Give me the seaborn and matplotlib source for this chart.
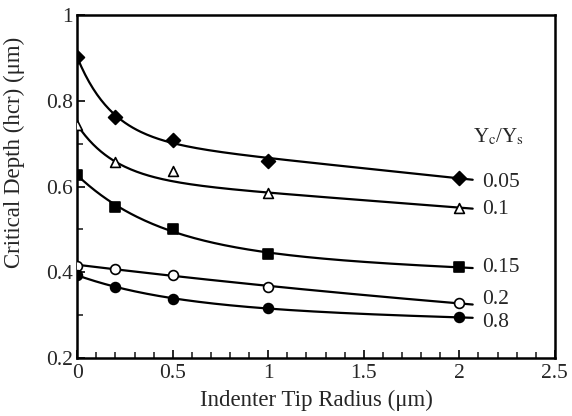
import numpy as np
import pandas as pd
import matplotlib
matplotlib.use("Agg")
import matplotlib.pyplot as plt
from matplotlib.ticker import MultipleLocator
import seaborn as sns

# Indenter tip radius (um) and critical depth (um) for each Yc/Ys ratio
radius = [0.0, 0.2, 0.5, 1.0, 2.0]
ratio_labels = ["0.05", "0.1", "0.15", "0.2", "0.8"]
depth_005 = [0.902, 0.763, 0.709, 0.660, 0.621]
depth_010 = [0.744, 0.658, 0.637, 0.586, 0.551]
depth_015 = [0.628, 0.553, 0.500, 0.444, 0.412]
depth_020 = [0.416, 0.409, 0.393, 0.367, 0.328]
depth_080 = [0.393, 0.367, 0.339, 0.316, 0.295]

# points used in each trend-curve fit (the 0.1 point at r = 0.5 is left out)
fit_use_010 = [True, True, False, True, True]

series = [depth_005, depth_010, depth_015, depth_020, depth_080]
fit_masks = [None, fit_use_010, None, None, None]
markers = ["D", "^", "s", "o", "o"]
filled = [True, False, True, False, True]
label_y = [0.609, 0.547, 0.412, 0.337, 0.284]

rows = []
for lab, vals in zip(ratio_labels, series):
    for x, y in zip(radius, vals):
        rows.append({"ratio": lab, "radius": x, "depth": y})
df = pd.DataFrame(rows)


def fit_curve(x, y, xs, mask=None):
    """Least-squares fit of a + b*exp(-k x) + d*x, with k chosen by grid search."""
    x = np.asarray(x)
    y = np.asarray(y)
    if mask is not None:
        m = np.asarray(mask, dtype=bool)
        x, y = x[m], y[m]
    best = None
    for k in np.linspace(0.3, 25, 500):
        A = np.column_stack([np.ones_like(x), np.exp(-k * x), x])
        coef, *_ = np.linalg.lstsq(A, y, rcond=None)
        r = np.sum((A @ coef - y) ** 2)
        if best is None or r < best[0]:
            best = (r, k, coef)
    _, k, c = best
    return c[0] + c[1] * np.exp(-k * xs) + c[2] * xs


sns.set_style("ticks")
plt.rcParams["font.family"] = ["Liberation Serif", "DejaVu Serif"]
plt.rcParams["mathtext.fontset"] = "stix"

fig = plt.figure(figsize=(5.72, 4.16), dpi=100)
ax = fig.add_axes([0.135, 0.139, 0.835, 0.825])

xs = np.linspace(0, 2.07, 200)
curve_rows = []
for lab, vals, msk in zip(ratio_labels, series, fit_masks):
    ys = fit_curve(radius, vals, xs, msk)
    curve_rows.append(pd.DataFrame({"ratio": lab, "radius": xs, "depth": ys}))
curves = pd.concat(curve_rows, ignore_index=True)

sns.lineplot(data=curves, x="radius", y="depth", units="ratio", estimator=None,
             color="black", linewidth=1.6, ax=ax, legend=False)

for lab, m, f in zip(ratio_labels, markers, filled):
    sub = df[df["ratio"] == lab]
    sns.scatterplot(data=sub, x="radius", y="depth", marker=m, s=50,
                    facecolor="black" if f else "white", edgecolor="black",
                    linewidth=1.2, ax=ax, zorder=3, legend=False)

for lab, ly in zip(ratio_labels, label_y):
    ax.text(2.12, ly, lab, fontsize=15.5, va="center", ha="left")
ax.text(2.07, 0.716, r"Y$_\mathrm{c}$/Y$_\mathrm{s}$", fontsize=15,
        va="center", ha="left")

ax.set_xlim(0, 2.5)
ax.set_ylim(0.2, 1.0)
ax.xaxis.set_minor_locator(MultipleLocator(0.1))
ax.yaxis.set_minor_locator(MultipleLocator(0.1))
ax.set_xticks([0, 0.5, 1, 1.5, 2, 2.5])
ax.set_xticklabels(["0", "0.5", "1", "1.5", "2", "2.5"])
ax.set_yticks([0.2, 0.4, 0.6, 0.8, 1.0])
ax.set_yticklabels(["0.2", "0.4", "0.6", "0.8", "1"])
ax.tick_params(axis="both", which="major", direction="in", length=6, width=1.4,
               labelsize=15.5)
ax.tick_params(axis="x", which="major", pad=4)
ax.tick_params(axis="y", which="major", pad=3)
ax.tick_params(axis="both", which="minor", direction="in", length=4, width=1.2)
for sp in ax.spines.values():
    sp.set_visible(True)
    sp.set_linewidth(1.8)
    sp.set_color("black")

ax.set_xlabel("Indenter Tip Radius (μm)", fontsize=16.5, labelpad=5)
ax.set_ylabel("Critical Depth (hcr) (μm)", fontsize=16.5, labelpad=5)
ax.yaxis.set_label_coords(-0.11, 0.6)

fig.savefig("out.png", dpi=100, facecolor="white")
